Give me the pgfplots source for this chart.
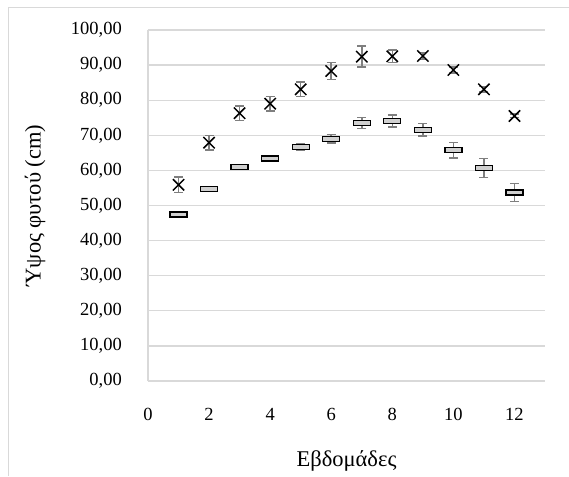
\documentclass[border=0pt]{standalone}
\usepackage{pgfplots}
\pgfplotsset{compat=1.18}
\usepackage{pgfplotstable}
\usepackage{fontspec}
\setmainfont{Liberation Serif}
\definecolor{gridc}{HTML}{D9D9D9}
\definecolor{errc}{HTML}{7F7F7F}
\definecolor{boxfill}{HTML}{D0D0D0}
\pgfdeclareplotmark{dashbox}{%
  \pgfpathrectangle{\pgfpoint{-8.5pt}{-2.5pt}}{\pgfpoint{17pt}{5pt}}%
  \pgfusepathqfillstroke}
\pgfplotstableread{
x y e
1 55.9 2.2
2 67.9 2.1
3 76.3 2.1
4 79.0 2.1
5 83.1 2.1
6 88.3 2.4
7 92.4 3.0
8 92.5 1.8
9 92.6 1.0
10 88.6 0.9
11 83.1 0.8
12 75.5 0.5
}\seriesA
\pgfplotstableread{
x y e
1 47.4 0.3
2 54.7 0.3
3 60.9 0.4
4 63.4 0.5
5 66.6 1.0
6 69.0 1.2
7 73.5 1.6
8 74.1 1.7
9 71.6 1.8
10 65.8 2.2
11 60.7 2.7
12 53.7 2.6
}\seriesB
\begin{document}
\begin{tikzpicture}
\useasboundingbox (-148pt,-95pt) rectangle (421pt,381pt);
\draw[gridc, line width=1pt] (-139pt,-95pt) -- (-139pt,373pt) -- (421pt,373pt);
\begin{axis}[
  at={(0,0)}, anchor=south west,
  scale only axis, width=397pt, height=351pt,
  xmin=0, xmax=13, ymin=0, ymax=100,
  xtick={0,2,...,12}, ytick={0,10,...,100},
  axis x line*=bottom, axis y line*=left,
  axis line style={gridc, line width=1.2pt, -},
  ymajorgrids, grid style={gridc, line width=1.2pt},
  major tick length=0,
  /pgf/number format/assume math mode=true,
  tick label style={font=\fontsize{18.5}{20}\selectfont, inner sep=0pt},
  yticklabel={\pgfmathprintnumber[fixed,fixed zerofill,precision=2,use comma]{\tick}},
  yticklabel style={anchor=east, xshift=-26pt},
  xticklabel style={anchor=center, yshift=-33pt},
  label style={font=\fontsize{22.5}{26}\selectfont},
  xlabel={Εβδομάδες},
  ylabel={Ύψος φυτού (cm)},
  xlabel style={at={(axis description cs:0.5,0)}, anchor=center, yshift=-80pt},
  ylabel style={at={([xshift=-113pt]axis description cs:0,0.5)}, anchor=center},
  clip=false,
]
\addplot[only marks, mark=x, mark size=8pt, black, line width=1.5pt,
  error bars/.cd, y dir=both, y explicit,
  error bar style={errc, line width=1.5pt},
  error mark options={errc, mark size=4.5pt, line width=1.5pt, rotate=90}]
  table[x=x, y=y, y error=e]{\seriesA};
\addplot[only marks, mark=dashbox, black, fill=boxfill, line width=1.3pt,
  error bars/.cd, y dir=both, y explicit,
  error bar style={errc, line width=1.5pt},
  error mark options={errc, mark size=4.5pt, line width=1.5pt, rotate=90}]
  table[x=x, y=y, y error=e]{\seriesB};
\end{axis}
\end{tikzpicture}
\end{document}
